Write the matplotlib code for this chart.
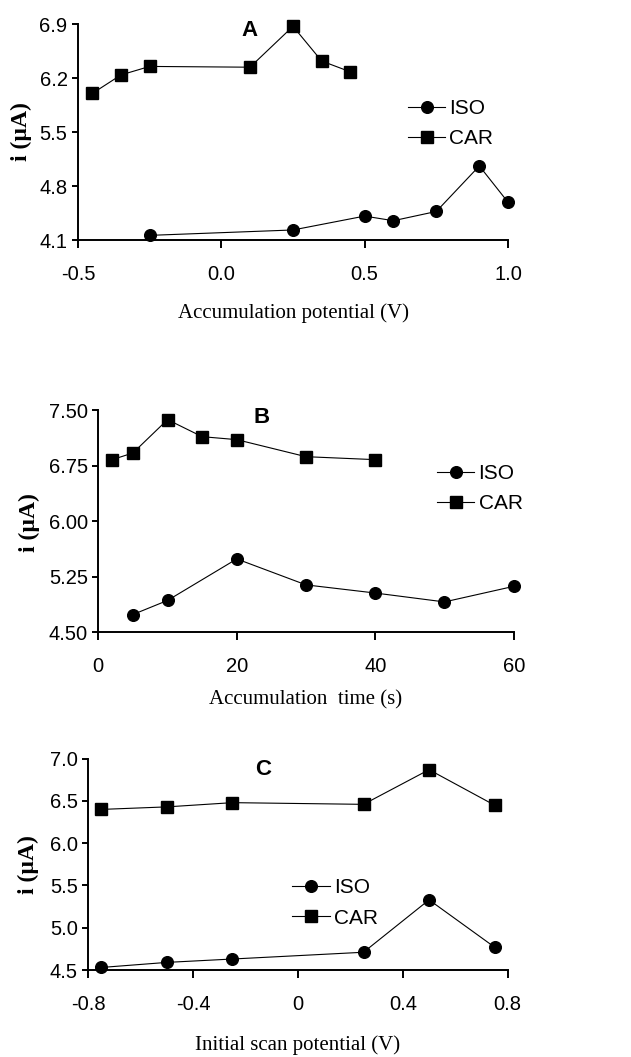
import matplotlib
matplotlib.use('Agg')
import matplotlib.pyplot as plt
from matplotlib.ticker import FormatStrFormatter, FixedFormatter

plt.rcParams['axes.unicode_minus'] = False

# Panel A: accumulation potential
potA_iso = [-0.25, 0.25, 0.5, 0.6, 0.75, 0.9, 1.0]
iso_A = [4.16, 4.23, 4.41, 4.35, 4.47, 5.06, 4.59]
potA_car = [-0.45, -0.35, -0.25, 0.1, 0.25, 0.35, 0.45]
car_A = [6.00, 6.24, 6.35, 6.34, 6.87, 6.42, 6.28]

# Panel B: accumulation time
timeB_iso = [5, 10, 20, 30, 40, 50, 60]
iso_B = [4.74, 4.93, 5.49, 5.14, 5.03, 4.91, 5.12]
timeB_car = [2, 5, 10, 15, 20, 30, 40]
car_B = [6.83, 6.92, 7.37, 7.14, 7.10, 6.87, 6.83]

# Panel C: initial scan potential
potC = [-0.75, -0.5, -0.25, 0.25, 0.5, 0.75]
iso_C = [4.53, 4.59, 4.63, 4.71, 5.33, 4.77]
car_C = [6.40, 6.43, 6.48, 6.46, 6.87, 6.45]

W, H = 631, 1057
fig = plt.figure(figsize=(W / 100, H / 100), dpi=100)

SANS = 'Liberation Sans'
SERIF = 'Liberation Serif'


def box(l, t, r, b):
    return [l / W, 1 - b / H, (r - l) / W, (b - t) / H]


def style(ax, xlim, ylim, xticks, yticks, yfmt, xlabels=None):
    for s in ('top', 'right'):
        ax.spines[s].set_visible(False)
    for s in ('left', 'bottom'):
        ax.spines[s].set_linewidth(1.4)
    ax.set_xlim(*xlim)
    ax.set_ylim(*ylim)
    ax.set_xticks(xticks)
    ax.set_yticks(yticks)
    ax.yaxis.set_major_formatter(FormatStrFormatter(yfmt))
    if xlabels is not None:
        ax.xaxis.set_major_formatter(FixedFormatter(xlabels))
    ax.tick_params(axis='x', direction='out', length=6, width=1.4, pad=12,
                   labelsize=14.5)
    ax.tick_params(axis='y', direction='out', length=4.5, width=1.4, pad=3,
                   labelsize=14.5)
    for lab in ax.get_xticklabels() + ax.get_yticklabels():
        lab.set_fontfamily(SANS)


def draw(ax, x_iso, y_iso, x_car, y_car, letter, lxy, legxy, xlab, xl_y,
         yl_xy):
    ax.plot(x_iso, y_iso, '-o', color='black', lw=0.8, ms=8.4,
            clip_on=False, label='ISO', zorder=5)
    ax.plot(x_car, y_car, '-s', color='black', lw=0.8, ms=8.6,
            clip_on=False, label='CAR', zorder=5)
    ax.text(lxy[0], lxy[1], letter, transform=ax.transAxes, ha='center',
            va='center', fontsize=16, fontweight='bold', family=SANS)
    ax.legend(loc='upper left', bbox_to_anchor=legxy, frameon=False,
              borderpad=0, borderaxespad=0, handlelength=1.8,
              handletextpad=0.2, labelspacing=0.55,
              prop={'family': SANS, 'size': 15})
    ax.set_xlabel(xlab, fontsize=15, family=SERIF)
    ax.xaxis.set_label_coords(0.5, xl_y)
    ax.set_ylabel('i (\u00b5A)', fontsize=17, family=SERIF,
                  fontweight='bold')
    ax.yaxis.set_label_coords(*yl_xy)


axA = fig.add_axes(box(78, 24, 508, 240))
style(axA, (-0.5, 1.0), (4.1, 6.9), [-0.5, 0.0, 0.5, 1.0],
      [4.1, 4.8, 5.5, 6.2, 6.9], '%.1f')
draw(axA, potA_iso, iso_A, potA_car, car_A, 'A', (0.4, 0.968),
     (0.767, 0.653), 'Accumulation potential (V)', -0.295, (-0.107, 0.5))

axB = fig.add_axes(box(98.3, 410, 513.7, 632.3))
style(axB, (0, 60), (4.5, 7.5), [0, 20, 40, 60],
      [4.5, 5.25, 6.0, 6.75, 7.5], '%.2f')
draw(axB, timeB_iso, iso_B, timeB_car, car_B, 'B', (0.394, 0.968),
     (0.815, 0.757), 'Accumulation  time (s)', -0.26, (-0.14, 0.494))

axC = fig.add_axes(box(88.3, 758.7, 507.7, 970))
style(axC, (-0.8, 0.8), (4.5, 7.0), [-0.8, -0.4, 0.0, 0.4, 0.8],
      [4.5, 5.0, 5.5, 6.0, 6.5, 7.0], '%.1f',
      xlabels=['-0.8', '-0.4', '0', '0.4', '0.8'])
draw(axC, potC, iso_C, potC, car_C, 'C', (0.4166, 0.947),
     (0.486, 0.435), 'Initial scan potential (V)', -0.308, (-0.117, 0.497))

fig.savefig('out.png', dpi=100)
